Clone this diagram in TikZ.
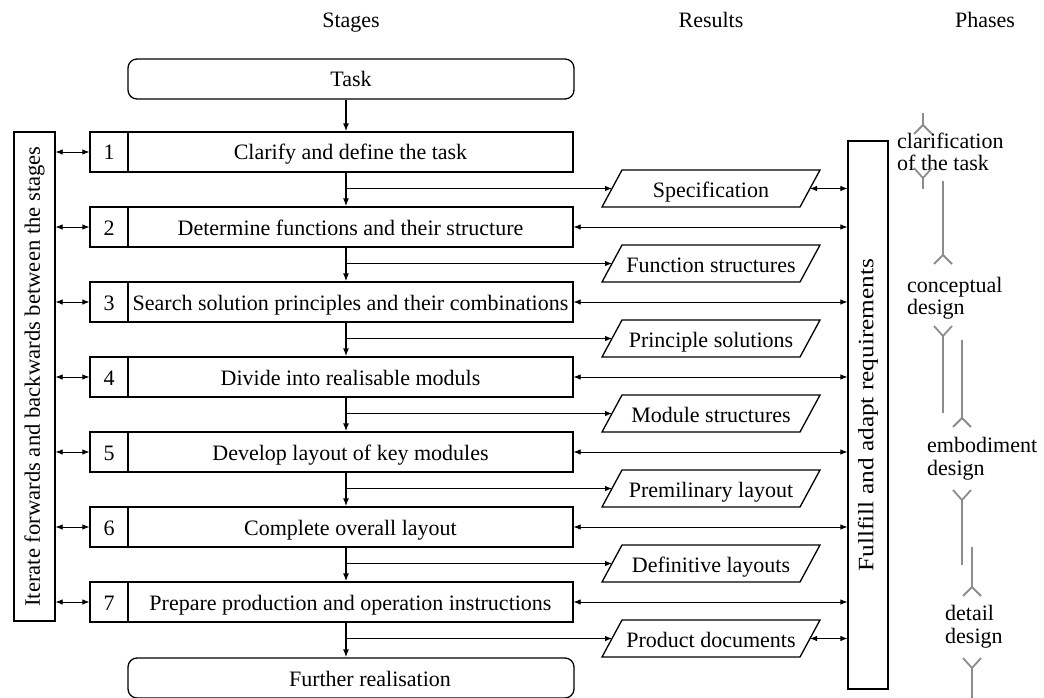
\documentclass[tikz,border=0pt]{standalone}
\usepackage{fontspec}
\setmainfont{Liberation Serif}
\usetikzlibrary{arrows.meta,calc}
\begin{document}
\begin{tikzpicture}[x=1pt,y=-1pt,
  every node/.style={font=\fontsize{22}{24}\selectfont, inner sep=0pt},
  boxtext/.style={text height=20pt, text depth=4pt},
  stagebox/.style={draw, line width=1.3pt, minimum height=40pt, boxtext},
  numbox/.style={stagebox, minimum width=38pt},
  mainbox/.style={stagebox, minimum width=445pt},
  term/.style={draw, line width=1.3pt, rounded corners=9pt, minimum width=446pt, minimum height=40pt},
  sidebox/.style={draw, line width=1.3pt},
  dbl/.style={{Latex[length=7pt,width=5.5pt]}-{Latex[length=7pt,width=5.5pt]}, line width=0.8pt},
  flow/.style={line width=1.3pt, -{Latex[length=8pt,width=6pt]}},
  branch/.style={line width=0.8pt, -{Latex[length=7pt,width=5.5pt]}},
  result/.style={line width=1.3pt},
  phase/.style={draw=black!45, line width=1.8pt},
  header/.style={anchor=base},
  phasetext/.style={anchor=base west},
  splitdown/.pic={\draw[phase] (-9,9) -- (0,0) -- (9,9);},
  splitup/.pic={\draw[phase] (-9,-10) -- (0,0) -- (9,-10);},
]
\useasboundingbox (0,0) rectangle (1044,698);

% column headers
\node[header] (hstages) at (351,28) {Stages};
\node[header] (hresults) at (711,28) {Results};
\node[header] (hphases) at (985,28) {Phases};

% start and end terminals
\node[term] (task) at (351,79) {};
\node[boxtext] (tasktext) at (task.center) {Task};
\node[term] (fin) at (351,678) {};
\node[boxtext] (fintext) at ($(fin.center)+(19,0)$) {Further realisation};

% working stages
\foreach \i/\txt in {1/Clarify and define the task,
                     2/Determine functions and their structure,
                     3/Search solution principles and their combinations,
                     4/Divide into realisable moduls,
                     5/Develop layout of key modules,
                     6/Complete overall layout,
                     7/Prepare production and operation instructions} {
  \node[numbox] (n\i) at (109,{152+75*(\i-1)}) {\i};
  \node[mainbox] (s\i) at (350.5,{152+75*(\i-1)}) {\txt};
}

% results of the stages
\foreach \i/\txt in {1/Specification,
                     2/Function structures,
                     3/Principle solutions,
                     4/Module structures,
                     5/Premilinary layout,
                     6/Definitive layouts,
                     7/Product documents} {
  \pgfmathsetmacro\yc{188.5+75*(\i-1)}
  \node[boxtext] (r\i) at (711,\yc+1) {\txt};
  \draw[result] (602,\yc+18.5) -- (622,\yc-18.5) -- (820,\yc-18.5) -- (800,\yc+18.5) -- cycle;
  \coordinate (rw\i) at (612,\yc);
  \coordinate (re\i) at (810,\yc);
}

% side boxes
\node[sidebox, minimum width=41pt, minimum height=489pt] (iter) at (34.5,376.5) {};
\node[rotate=90, xscale=1.03] (itertext) at (iter.center) {Iterate forwards and backwards between the stages};
\node[sidebox, minimum width=40pt, minimum height=548pt] (req) at (868,415) {};
\node[rotate=90, xscale=1.15] (reqtext) at (req.center) {Fullfill and adapt requirements};

% main flow
\coordinate (fx) at (346,0);
\draw[flow] (task.south -| fx) -- (s1.north -| fx);
\foreach \i [evaluate=\i as \j using int(\i+1)] in {1,...,6}
  \draw[flow] (s\i.south -| fx) -- (s\j.north -| fx);
\draw[flow] (s7.south -| fx) -- (fin.north -| fx);
\foreach \i in {1,...,7}
  \draw[branch] (fx |- rw\i) -- (rw\i);

% links to the side boxes
\foreach \i in {1,...,7}
  \draw[dbl] (n\i.west -| iter.east) -- (n\i.west);
\foreach \i in {2,...,7}
  \draw[dbl] (s\i.east) -- (s\i.east -| req.west);
\draw[dbl] (re1) -- (re1 -| req.west);
\draw[dbl] (re7) -- (re7 -| req.west);

% phases
\draw[phase] (923,113) -- (923,125);
\pic at (923,125) {splitdown};
\node[phasetext] (p1a) at (897,149) {clarification};
\node[phasetext] (p1b) at (897,170) {of the task};
\pic at (923,178) {splitup};
\draw[phase] (923,178) -- (923,189);

\draw[phase] (943,181) -- (943,255);
\pic at (943,255) {splitdown};
\node[phasetext] (p2a) at (907,292) {conceptual};
\node[phasetext] (p2b) at (907,314) {design};
\pic at (943,336) {splitup};
\draw[phase] (943,336) -- (943,413);

\draw[phase] (962,340) -- (962,418);
\pic at (962,418) {splitdown};
\node[phasetext] (p3a) at (927,452) {embodiment};
\node[phasetext] (p3b) at (927,475) {design};
\pic at (962,500) {splitup};
\draw[phase] (962,500) -- (962,565);

\draw[phase] (972,547) -- (972,587);
\pic at (972,587) {splitdown};
\node[phasetext] (p4a) at (945,620) {detail};
\node[phasetext] (p4b) at (945,643) {design};
\pic at (972,668) {splitup};
\draw[phase] (972,668) -- (972,698);
\end{tikzpicture}
\end{document}
